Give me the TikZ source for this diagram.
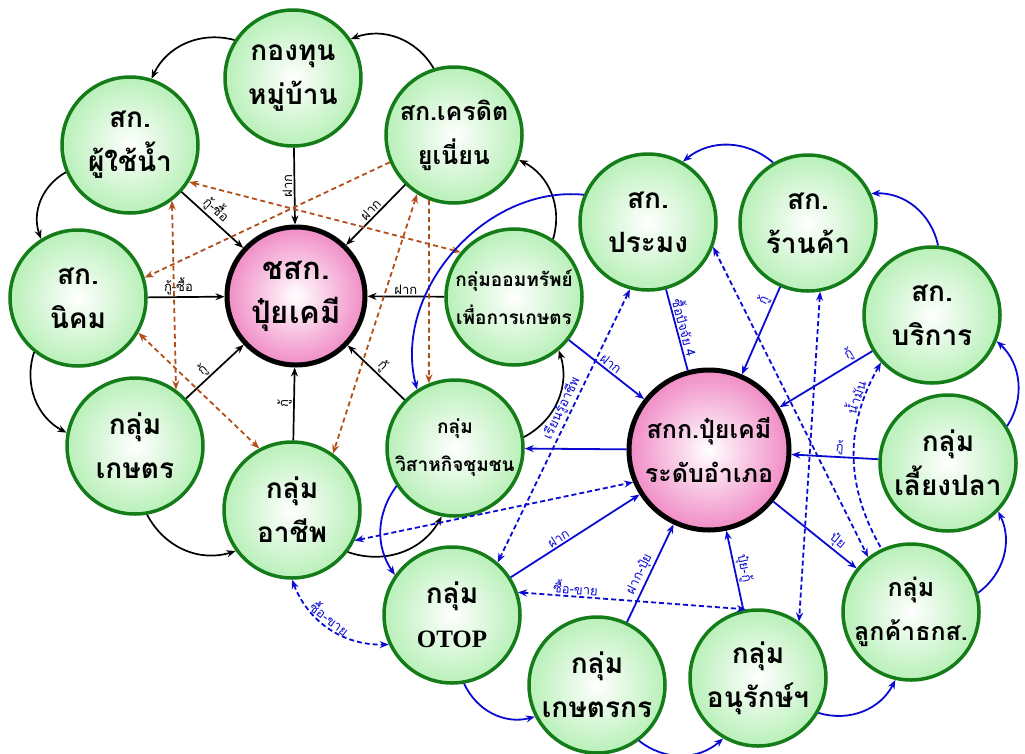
\documentclass[tikz,border=0pt]{standalone}
\usepackage{fontspec}
\setmainfont{Liberation Serif}
\newfontfamily\thaifont[Script=Thai]{Loma}
\usetikzlibrary{arrows.meta}
\definecolor{ngreen}{RGB}{20,125,25}
\definecolor{lgreen}{RGB}{185,240,185}
\definecolor{npink}{RGB}{240,140,198}
\definecolor{nblue}{RGB}{10,10,210}
\definecolor{nbrown}{RGB}{178,78,25}
\tikzset{
 gnode/.style={circle, minimum size=136pt, inner sep=0pt, draw=ngreen, line width=3.5pt, inner color=white, outer color=lgreen},
 cnode/.style={circle, inner sep=0pt, draw=black, line width=5pt, inner color=white, outer color=npink},
 txt/.style={font=\thaifont\bfseries\fontsize{28}{44}\selectfont, align=center, inner sep=0pt},
 mtxt/.style={font=\thaifont\bfseries\fontsize{25}{44}\selectfont, align=center, inner sep=0pt},
 stxt/.style={font=\thaifont\bfseries\fontsize{19}{38}\selectfont, align=center, inner sep=0pt},
 arr/.style={-{Stealth[length=9pt,width=7pt]}},
 darr/.style={{Stealth[length=9pt,width=7pt]}-{Stealth[length=9pt,width=7pt]}},
 rarr/.style={{Stealth[length=9pt,width=7pt]}-},
 blk/.style={draw=black, line width=1.7pt},
 blu/.style={draw=nblue, line width=1.8pt},
 bdash/.style={blu, dash pattern=on 5pt off 3pt},
 rdash/.style={draw=nbrown, line width=1.8pt, dash pattern=on 5pt off 3.5pt},
 elab/.style={font=\thaifont\fontsize{13}{15}\selectfont, inner sep=1.5pt},
 blab/.style={elab, text=nblue},
}
\begin{document}
\begin{tikzpicture}[x=1pt,y=-1pt]
\useasboundingbox (0,0) rectangle (1025,753);
% ---- left cluster nodes
\node[cnode, minimum size=138pt] (c1) at (296,296) {};
\node[txt, font=\thaifont\bfseries\fontsize{31}{44}\selectfont] (c1t) at (c1) {ชสก.\\ปุ๋ยเคมี};
\node[gnode] (kong) at (293,78) {};
\node[txt] (kongt) at (kong) {กองทุน\\หมู่บ้าน};
\node[gnode] (kredit) at (454,135) {};
\node[mtxt] (kreditt) at (kredit) {สก.เครดิต\\ยูเนี่ยน};
\node[gnode] (nam) at (130,145) {};
\node[txt] (namt) at (nam) {สก.\\ผู้ใช้น้ำ};
\node[gnode] (nikom) at (78,298) {};
\node[txt] (nikomt) at (nikom) {สก.\\นิคม};
\node[gnode] (kaset) at (135,446) {};
\node[txt] (kasett) at (kaset) {กลุ่ม\\เกษตร};
\node[gnode] (achip) at (292,510) {};
\node[txt] (achipt) at (achip) {กลุ่ม\\อาชีพ};
\node[gnode] (visa) at (455,448) {};
\node[stxt] (visat) at (visa) {กลุ่ม\\วิสาหกิจชุมชน};
\node[gnode] (oom) at (514,297) {};
\node[stxt] (oomt) at (oom) {กลุ่มออมทรัพย์\\เพื่อการเกษตร};
% ---- right cluster nodes
\node[cnode, minimum size=160pt] (c2) at (709,450) {};
\node[mtxt] (c2t) at (c2) {สกก.ปุ๋ยเคมี\\ระดับอำเภอ};
\node[gnode] (pramong) at (648,222) {};
\node[txt] (pramongt) at (pramong) {สก.\\ประมง};
\node[gnode] (rankha) at (808,223) {};
\node[txt] (rankhat) at (rankha) {สก.\\ร้านค้า};
\node[gnode] (borikan) at (932,315) {};
\node[txt] (borikant) at (borikan) {สก.\\บริการ};
\node[gnode] (pla) at (948,463) {};
\node[txt] (plat) at (pla) {กลุ่ม\\เลี้ยงปลา};
\node[gnode] (luk) at (911,612) {};
\node[mtxt] (lukt) at (luk) {กลุ่ม\\ลูกค้าธกส.};
\node[gnode] (anurak) at (758,678) {};
\node[txt] (anurakt) at (anurak) {กลุ่ม\\อนุรักษ์ฯ};
\node[gnode] (kasetkorn) at (597,685) {};
\node[txt] (kasetkornt) at (kasetkorn) {กลุ่ม\\เกษตรกร};
\node[gnode] (otop) at (452,615) {};
\node[txt] (otopt) at (otop) {กลุ่ม\\{\rmfamily\bfseries\fontsize{25}{30}\selectfont OTOP}};
% ---- left spokes
\draw[blk, arr] (kong) -- node[elab, rotate=90, above] (l1) {ฝาก} (c1);
\draw[blk, arr] (kredit) -- node[elab, sloped, above] (l2) {ฝาก} (c1);
\draw[blk, arr] (nam) -- node[elab, sloped, above, pos=.45] (l3) {กู้-ซื้อ} (c1);
\draw[blk, arr] (nikom) -- node[elab, above, pos=.4] (l4) {กู้-ซื้อ} (c1);
\draw[blk, arr] (oom) -- node[elab, above, pos=.5] (l5) {ฝาก} (c1);
\draw[blk, arr] (kaset) -- node[elab, sloped, above, pos=.4] (l6) {กู้} (c1);
\draw[blk, arr] (achip) -- node[elab, sloped, above] (l7) {กู้} (c1);
\draw[blk, arr] (visa) -- node[elab, sloped, above] (l8) {กู้} (c1);
% ---- left ring
\draw[blk, arr] (kong.147) to[bend right=40] (nam.72);
\draw[blk, arr] (nam.203) to[bend right=40] (nikom.122);
\draw[blk, arr] (nikom.231) to[bend right=40] (kaset.169);
\draw[blk, arr] (kaset.280) to[bend right=40] (achip.216);
\draw[blk, arr] (achip.323) to[bend right=40] (visa.259);
\draw[blk, arr] (visa.9) to[bend right=40] (oom.310);
\draw[blk, arr] (oom.56) to[bend right=40] (kredit.339);
\draw[blk, arr] (kredit.107) to[bend right=40] (kong.34);
% ---- brown dashed
\draw[rdash, arr] (kredit.203) -- (nikom.17);
\draw[rdash, darr] (nam.328) -- (oom.140);
\draw[rdash, darr] (nam.307) -- (kaset.54);
\draw[rdash, darr] (nikom.330) -- (achip.118);
\draw[rdash, arr] (kredit.249) -- (visa.112);
\draw[rdash, darr] (kredit.238) -- (achip.54);
% ---- right spokes
\draw[blu, arr] (oom) -- node[blab, sloped, above] (r1) {ฝาก} (c2);
\draw[blu] (pramong) -- node[blab, sloped, above] (r2) {ซื้อปัจจัย 4} (c2);
\draw[blu, arr] (rankha) -- node[blab, sloped, above, pos=.2] (r3) {กู้} (c2);
\draw[blu, arr] (borikan) -- node[blab, sloped, above, pos=.2] (r4) {กู้} (c2);
\draw[blu, arr] (pla) -- node[blab, sloped, above, pos=.45] (r5) {กู้} (c2);
\draw[blu, arr] (c2) -- node[blab, sloped, above, pos=.7] (r6) {ปุ๋ย} (luk);
\draw[blu, arr] (anurak) -- node[blab, sloped, above] (r7) {ปุ๋ย-กู้} (c2);
\draw[blu, arr] (kasetkorn) -- node[blab, sloped, above, pos=.45] (r8) {ฝาก-ปุ๋ย} (c2);
\draw[blu, arr] (otop) -- node[blab, sloped, above, pos=.4] (r9) {ฝาก} (c2);
\draw[blu, arr] (c2) -- (visa);
% ---- right ring
\draw[blu, arr] (rankha.120) to[bend right=40] (pramong.60);
\draw[blu, arr] (borikan.85) to[bend right=40] (rankha.25);
\draw[blu, arr] (pla.32) to[bend right=40] (borikan.338);
\draw[blu, arr] (luk.16) to[bend right=40] (pla.316);
\draw[blu, arr] (anurak.330) to[bend right=40] (luk.257);
\draw[blu, arr] (kasetkorn.307) to[bend right=40] (anurak.240);
\draw[blu, arr] (otop.280) to[bend right=40] (kasetkorn.207);
\draw[blu, arr] (pramong.157) to[bend right=55] (visa.123);
\draw[blu, arr] (visa.213) to[bend right=35] (otop.145);
% ---- blue dashed
\draw[bdash, darr] (achip.334) -- (c2.203);
\draw[bdash, darr] (achip.270) to[bend right=35] node[blab, sloped, above, pos=.45] (d1) {ซื้อ-ขาย} (otop.205);
\draw[bdash, darr] (otop.19) -- node[blab, sloped, above, pos=.25] (d2) {ซื้อ-ขาย} (anurak.100);
\draw[bdash, darr] (pramong.255) -- node[blab, sloped, above, pos=.45] (d3) {เรียนรู้อาชีพ} (otop.49);
\draw[bdash, darr] (pramong.339) -- (luk.128);
\draw[bdash, darr] (rankha.280) -- (anurak.54);
\draw[bdash, rarr] (borikan.223) to[bend right=30] node[blab, sloped, above, pos=.2] (d4) {น้ำมัน} (luk.115);
\end{tikzpicture}
\end{document}
